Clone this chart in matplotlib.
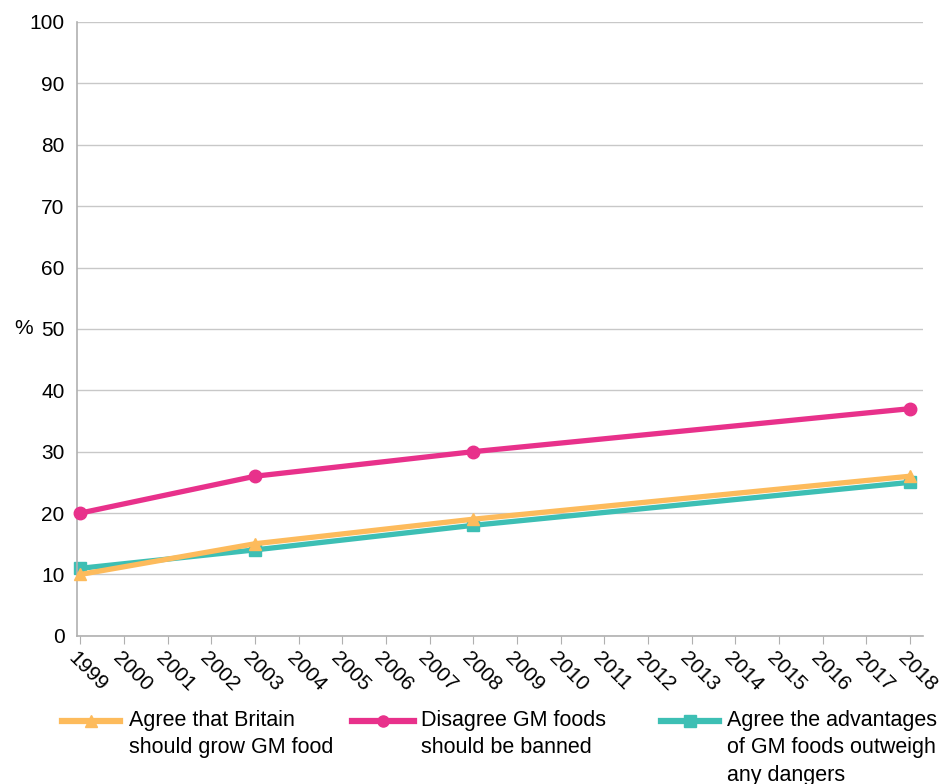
import numpy as np
import matplotlib.pyplot as plt
import matplotlib.transforms as mtrans
from matplotlib.lines import Line2D

plt.rcParams['font.family'] = ['Liberation Sans', 'DejaVu Sans']

# survey years and shares (%)
years = [1999, 2003, 2008, 2018]
grow_gm = [10, 15, 19, 26]
ban_disagree = [20, 26, 30, 37]
advantages = [11, 14, 18, 25]

tick_years = list(range(1999, 2019))
y_ticks = list(range(0, 101, 10))

labels = ['Agree that Britain\nshould grow GM food',
          'Disagree GM foods\nshould be banned',
          'Agree the advantages\nof GM foods outweigh\nany dangers']
colors = ['#FDBB5C', '#E8318B', '#3DBFB4']
markers = ['^', 'o', 's']

W, H = 941, 784
fig = plt.figure(figsize=(W / 100, H / 100), dpi=100)
ax = fig.add_axes([0.0818, 0.189, 0.899, 0.783])

series = [grow_gm, ban_disagree, advantages]
z = [4, 3, 2]
for vals, c, m, zz in zip(series, colors, markers, z):
    ax.plot(years, vals, color=c, lw=3.8, marker=m, ms=9, zorder=zz,
            clip_on=False)

ax.set_xlim(1998.92, 2018.3)
ax.set_ylim(0, 100)
ax.set_yticks(y_ticks)
ax.set_xticks(tick_years)
ax.set_xticklabels([str(y) for y in tick_years], rotation=-45, ha='left',
                   va='top', rotation_mode='anchor')
ax.tick_params(axis='y', length=0, labelsize=15, pad=9)
ax.tick_params(axis='x', length=6, color='#b0b0b0', labelsize=15, pad=3)
ax.grid(axis='y', color='#c8c8c8', lw=1)
ax.set_axisbelow(True)
for s in ['top', 'right']:
    ax.spines[s].set_visible(False)
for s in ['left', 'bottom']:
    ax.spines[s].set_color('#b0b0b0')
    ax.spines[s].set_linewidth(1.2)
# nudge rotated year labels a touch left of their ticks
off = mtrans.ScaledTranslation(-2 / 100, 0, fig.dpi_scale_trans)
for lab in ax.get_xticklabels():
    lab.set_transform(lab.get_transform() + off)

ax.set_ylabel('%', rotation=0, fontsize=15, labelpad=4, va='center')

# legend drawn below the axes, handle level with first text line
handle_x = [(62, 120), (352, 414), (661, 719)]
text_x = [129, 421, 727]
for lab, c, m, (x0, x1), tx in zip(labels, colors, markers, handle_x, text_x):
    yh = 1 - 721 / H
    fig.add_artist(Line2D([x0 / W, x1 / W], [yh, yh], color=c, lw=4.5))
    fig.add_artist(Line2D([(x0 + x1) / 2 / W], [yh], color=c, marker=m,
                          ms=8, lw=0))
    fig.text(tx / W, 1 - 710 / H, lab, fontsize=15.5, va='top',
             ha='left', linespacing=1.4)

fig.savefig('out.png', dpi=100)
